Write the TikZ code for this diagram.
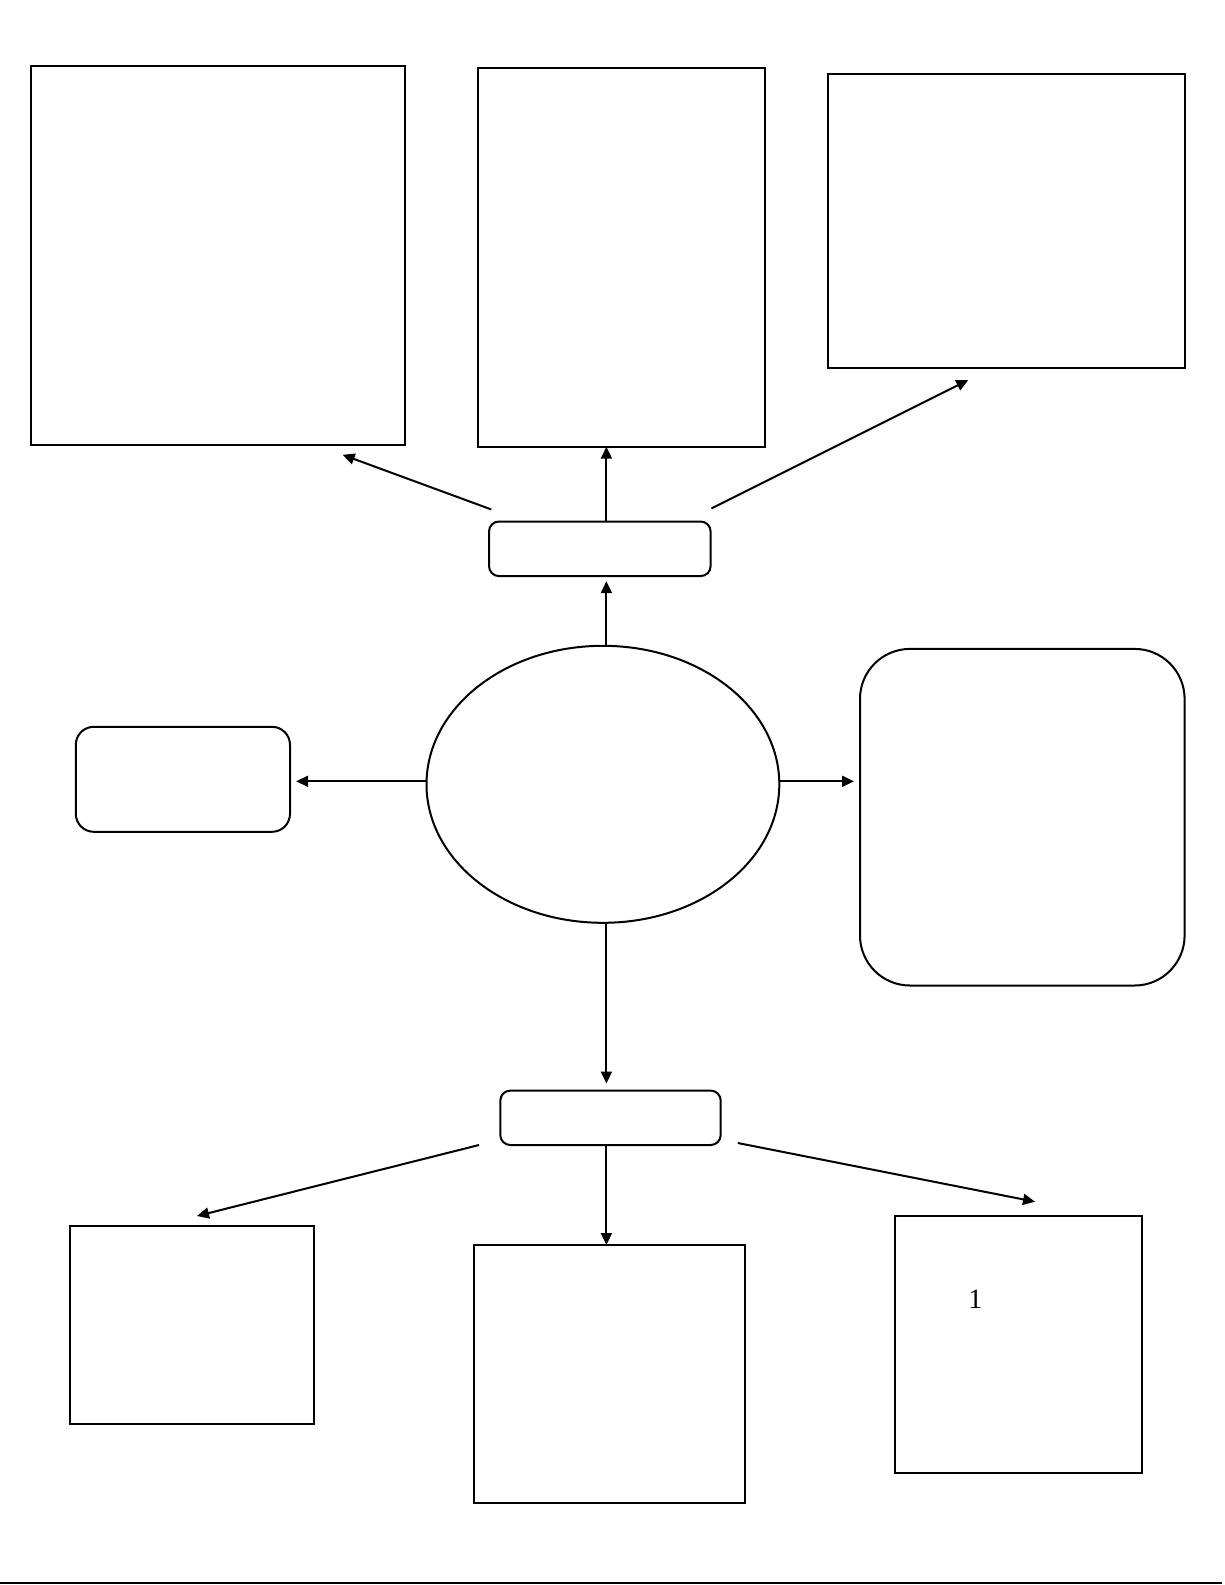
\documentclass[tikz,border=0pt]{standalone}
\usepackage{fontspec}
\setmainfont{Liberation Serif}
\usetikzlibrary{arrows.meta,shapes.geometric}
\begin{document}
\begin{tikzpicture}[x=0.5pt,y=-0.5pt,
  box/.style={draw,line width=1pt,inner sep=0pt},
  rbox/.style={box,rounded corners=5pt},
  conn/.style={line width=1pt,-{Triangle[length=6pt,width=5.5pt]}}]
\useasboundingbox (0,0) rectangle (1225,1585);
% boxes
\node[box,minimum width=187pt,minimum height=189.5pt] (tl) at (218.3,255.2) {};
\node[box,minimum width=143.5pt,minimum height=189.5pt] (tc) at (621.5,257.2) {};
\node[box,minimum width=178.4pt,minimum height=147pt] (tr) at (1006.2,220.9) {};
\node[rbox,minimum width=110.8pt,minimum height=27.3pt] (up) at (599.8,548.8) {};
\node[draw,ellipse,line width=1pt,minimum width=176.4pt,minimum height=138.5pt,inner sep=0pt] (el) at (602.9,784.3) {};
\node[box,rounded corners=9pt,minimum width=107.1pt,minimum height=52.5pt] (lf) at (182.9,779.3) {};
\node[box,rounded corners=25pt,minimum width=162.3pt,minimum height=168.3pt] (rt) at (1022.3,817.2) {};
\node[rbox,minimum width=110.2pt,minimum height=27.2pt] (lo) at (610.5,1117.8) {};
\node[box,minimum width=122.3pt,minimum height=99pt] (bl) at (192,1325) {};
\node[box,minimum width=135.5pt,minimum height=129pt] (bc) at (609.5,1374) {};
\node[box,minimum width=123.8pt,minimum height=128.3pt] (br) at (1018.3,1344.3) {};
\node[font=\fontsize{14pt}{16pt}\selectfont,inner sep=0pt] (one) at (975.3,1298.8) {1};
% connector endpoints
\coordinate (a1s) at (491.2,509.4); \coordinate (a1e) at (342.6,454.8);
\coordinate (a2s) at (606.4,521.5); \coordinate (a2e) at (606.4,446.7);
\coordinate (a3s) at (711.5,508.4); \coordinate (a3e) at (968.3,380);
\coordinate (a4s) at (606.4,645.8); \coordinate (a4e) at (606.4,581.2);
\coordinate (a5s) at (426.5,781.3); \coordinate (a5e) at (296.1,781.3);
\coordinate (a6s) at (779.3,781.3); \coordinate (a6e) at (854,781.3);
\coordinate (a7s) at (606.4,922.8); \coordinate (a7e) at (606.4,1083.5);
\coordinate (a8s) at (479,1145); \coordinate (a8e) at (197,1216);
\coordinate (a9s) at (606.4,1145); \coordinate (a9e) at (606.4,1245);
\coordinate (a10s) at (737.8,1143); \coordinate (a10e) at (1035,1201.7);
\foreach \i in {1,...,10} {\draw[conn] (a\i s) -- (a\i e);}
% bottom rule
\coordinate (ls) at (0,1583); \coordinate (le) at (1222,1583);
\draw[line width=1pt] (ls) -- (le);
\end{tikzpicture}
\end{document}
